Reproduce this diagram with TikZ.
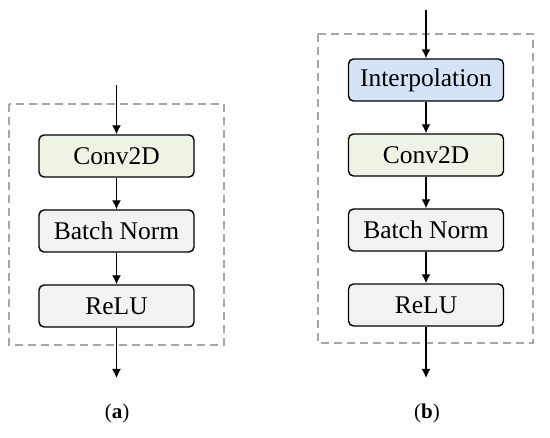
\documentclass[tikz,border=0pt]{standalone}
\usepackage{fontspec}
\setmainfont{Liberation Serif}
\usetikzlibrary{arrows.meta}
\definecolor{blueF}{HTML}{D5E3F6}
\definecolor{greenF}{HTML}{EEF3E4}
\definecolor{grayF}{HTML}{F2F2F2}
\definecolor{dashC}{HTML}{A6A6A6}
\tikzset{
  blk/.style={draw=black, line width=1.4pt, rounded corners=5pt, minimum width=155pt, minimum height=42pt, inner sep=0pt, font=\fontsize{25.5}{28}\selectfont},
  dashframe/.style={draw=dashC, line width=1.4pt, dash pattern=on 8pt off 5pt},
  conn/.style={-{Latex[length=9pt,width=9pt]}, line width=1.4pt},
  sublabel/.style={font=\fontsize{21}{24}\selectfont}
}
\begin{document}
\begin{tikzpicture}[x=1pt,y=-1pt]
\useasboundingbox (0,0) rectangle (550,438);
% (a)
\draw[dashframe] (9,104) rectangle (224,345);
\coordinate (ain) at (116.5,85);
\node[blk, fill=greenF] (ac) at (116.5,156) {Conv2D};
\node[blk, fill=grayF] (ab) at (116.5,231) {Batch Norm};
\node[blk, fill=grayF] (ar) at (116.5,306) {ReLU};
\coordinate (aout) at (116.5,378);
\draw[conn] (ain) -- (ac);
\draw[conn] (ac) -- (ab);
\draw[conn] (ab) -- (ar);
\draw[conn] (ar) -- (aout);
\node[sublabel] (alab) at (117,413) {(\textbf{a})};
% (b)
\draw[dashframe] (318,34) rectangle (533,343);
\coordinate (bin) at (426,10);
\node[blk, fill=blueF] (bi) at (426,80) {Interpolation};
\node[blk, fill=greenF] (bc) at (426,155) {Conv2D};
\node[blk, fill=grayF] (bb) at (426,230) {Batch Norm};
\node[blk, fill=grayF] (br) at (426,305) {ReLU};
\coordinate (bout) at (426,378);
\draw[conn] (bin) -- (bi);
\draw[conn] (bi) -- (bc);
\draw[conn] (bc) -- (bb);
\draw[conn] (bb) -- (br);
\draw[conn] (br) -- (bout);
\node[sublabel] (blab) at (427,413) {(\textbf{b})};
\end{tikzpicture}
\end{document}
